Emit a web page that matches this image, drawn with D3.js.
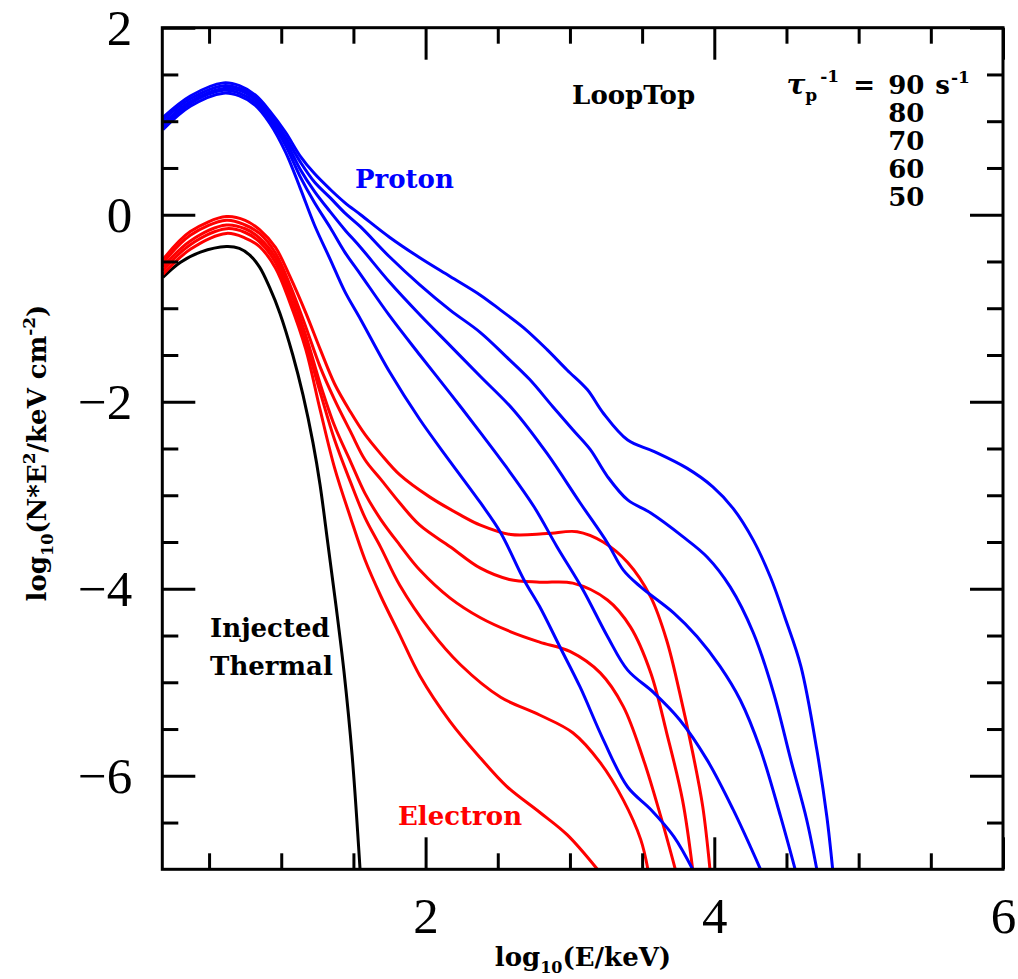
<!DOCTYPE html>
<html>
<head>
<meta charset="utf-8">
<script src="https://cdn.jsdelivr.net/npm/d3@7"></script>
<style>
  body { margin: 0; background: #fff; }
  .tick text { font-family: "Liberation Serif", serif; font-size: 51px; fill: #000; }
  .lbl { font-family: "DejaVu Serif", serif; font-weight: bold; font-size: 26px; }
</style>
</head>
<body>
<script>
'use strict';

// axes: log10(E/keV) vs log10(N*E^2/keV cm^-2)
const xDomain = [0.176, 6];
const yDomain = [-7, 2];
const xMajor = [2, 4, 6];
const yMajor = [2, 0, -2, -4, -6];
const rates = [90, 80, 70, 60, 50];   // tau_p^-1 in s^-1

// [log10 E, log10 N*E^2]
const thermal = [[0.18,-0.67],[0.30,-0.51],[0.44,-0.40],[0.62,-0.34],[0.71,-0.36],[0.78,-0.43],
  [0.85,-0.56],[0.92,-0.78],[0.99,-1.05],[1.08,-1.50],[1.151,-1.93],[1.22,-2.44],[1.269,-2.89],
  [1.324,-3.53],[1.380,-4.19],[1.435,-4.89],[1.491,-5.78],[1.546,-7.00]];

const proton90 = [[0.18,1.04],[0.37,1.27],[0.60,1.41],[0.71,1.38],[0.82,1.28],[0.92,1.11],[1.03,0.88],
  [1.13,0.63],[1.23,0.44],[1.34,0.27],[1.44,0.13],[1.55,0.00],[1.75,-0.24],[1.96,-0.46],[2.17,-0.66],
  [2.38,-0.86],[2.52,-1.02],[2.68,-1.21],[2.84,-1.44],[2.98,-1.66],[3.12,-1.87],[3.23,-2.12],[3.40,-2.41],
  [3.58,-2.53],[3.81,-2.71],[3.99,-2.91],[4.13,-3.14],[4.27,-3.48],[4.39,-3.88],[4.49,-4.31],[4.60,-4.83],
  [4.71,-5.72],[4.78,-6.44],[4.82,-7.00]];
const proton80 = [[0.18,1.01],[0.37,1.24],[0.60,1.38],[0.71,1.35],[0.82,1.26],[0.92,1.08],[1.03,0.83],
  [1.13,0.57],[1.23,0.35],[1.34,0.18],[1.44,0.02],[1.55,-0.13],[1.75,-0.45],[1.96,-0.75],[2.17,-1.02],
  [2.38,-1.26],[2.56,-1.52],[2.72,-1.76],[2.88,-2.05],[3.02,-2.30],[3.14,-2.51],[3.26,-2.80],[3.40,-3.05],
  [3.56,-3.19],[3.78,-3.44],[3.95,-3.66],[4.11,-3.98],[4.27,-4.47],[4.41,-5.11],[4.53,-5.83],[4.64,-6.47],
  [4.71,-7.00]];
const proton70 = [[0.18,0.97],[0.37,1.21],[0.60,1.35],[0.71,1.33],[0.82,1.23],[0.92,1.05],[1.03,0.79],
  [1.13,0.49],[1.23,0.25],[1.34,0.03],[1.44,-0.16],[1.55,-0.35],[1.75,-0.72],[1.96,-1.07],[2.17,-1.40],
  [2.38,-1.73],[2.61,-2.09],[2.84,-2.55],[3.07,-3.08],[3.26,-3.51],[3.37,-3.80],[3.49,-3.98],[3.72,-4.26],
  [3.88,-4.51],[4.04,-4.83],[4.18,-5.19],[4.32,-5.72],[4.46,-6.44],[4.56,-7.00]];
const proton60 = [[0.18,0.94],[0.37,1.19],[0.60,1.33],[0.71,1.30],[0.82,1.20],[0.92,1.02],[1.03,0.74],
  [1.13,0.41],[1.23,0.13],[1.34,-0.14],[1.44,-0.40],[1.55,-0.64],[1.75,-1.08],[1.96,-1.50],[2.17,-1.91],
  [2.38,-2.33],[2.56,-2.70],[2.75,-3.12],[2.91,-3.55],[3.09,-4.01],[3.26,-4.51],[3.40,-4.87],[3.58,-5.11],
  [3.76,-5.40],[3.95,-5.83],[4.13,-6.36],[4.32,-7.00]];
const proton50 = [[0.18,0.91],[0.37,1.16],[0.60,1.30],[0.71,1.27],[0.82,1.17],[0.92,0.98],[1.03,0.67],
  [1.13,0.29],[1.23,-0.11],[1.34,-0.48],[1.44,-0.82],[1.55,-1.12],[1.75,-1.68],[1.96,-2.19],[2.17,-2.64],
  [2.38,-3.08],[2.52,-3.40],[2.68,-3.90],[2.79,-4.19],[2.93,-4.62],[3.07,-5.05],[3.23,-5.61],[3.40,-6.12],
  [3.56,-6.36],[3.72,-6.65],[3.85,-7.00]];

const electron90 = [[0.18,-0.48],[0.37,-0.18],[0.62,-0.02],[0.75,-0.06],[0.85,-0.16],[0.96,-0.35],
  [1.06,-0.66],[1.17,-1.05],[1.27,-1.44],[1.37,-1.81],[1.48,-2.11],[1.58,-2.35],[1.69,-2.56],[1.82,-2.78],
  [2.03,-3.02],[2.24,-3.21],[2.38,-3.32],[2.59,-3.42],[2.84,-3.41],[3.05,-3.39],[3.23,-3.50],[3.40,-3.72],
  [3.56,-4.09],[3.67,-4.55],[3.76,-5.11],[3.85,-5.75],[3.92,-6.33],[3.97,-7.00]];
const electron80 = [[0.18,-0.52],[0.37,-0.22],[0.62,-0.06],[0.75,-0.11],[0.85,-0.20],[0.96,-0.41],
  [1.06,-0.75],[1.17,-1.20],[1.27,-1.63],[1.37,-1.98],[1.48,-2.32],[1.58,-2.62],[1.69,-2.83],[1.82,-3.08],
  [1.96,-3.32],[2.17,-3.55],[2.38,-3.78],[2.58,-3.90],[2.79,-3.93],[3.02,-3.94],[3.26,-4.12],[3.42,-4.41],
  [3.56,-4.90],[3.67,-5.54],[3.78,-6.26],[3.85,-7.00]];
const electron70 = [[0.18,-0.56],[0.37,-0.28],[0.62,-0.11],[0.75,-0.15],[0.85,-0.25],[0.96,-0.46],
  [1.06,-0.81],[1.17,-1.29],[1.27,-1.81],[1.37,-2.26],[1.48,-2.64],[1.58,-2.98],[1.69,-3.26],[1.82,-3.53],
  [1.96,-3.80],[2.17,-4.10],[2.38,-4.31],[2.59,-4.46],[2.79,-4.57],[3.00,-4.67],[3.21,-4.90],[3.37,-5.26],
  [3.51,-5.83],[3.63,-6.44],[3.73,-7.00]];
const electron60 = [[0.18,-0.60],[0.37,-0.32],[0.62,-0.15],[0.75,-0.19],[0.85,-0.29],[0.96,-0.51],
  [1.06,-0.88],[1.17,-1.37],[1.27,-1.90],[1.37,-2.41],[1.48,-2.86],[1.58,-3.24],[1.69,-3.56],[1.82,-3.96],
  [2.03,-4.44],[2.24,-4.81],[2.52,-5.16],[2.79,-5.35],[3.02,-5.54],[3.21,-5.86],[3.37,-6.26],[3.49,-6.68],
  [3.54,-7.00]];
const electron50 = [[0.18,-0.64],[0.37,-0.37],[0.62,-0.20],[0.75,-0.25],[0.85,-0.34],[0.96,-0.57],
  [1.06,-0.94],[1.17,-1.44],[1.27,-2.09],[1.37,-2.71],[1.48,-3.24],[1.58,-3.69],[1.69,-4.08],[1.82,-4.49],
  [1.96,-4.93],[2.17,-5.42],[2.38,-5.81],[2.56,-6.11],[2.79,-6.39],[2.98,-6.63],[3.19,-7.00]];

const protons = [proton90, proton80, proton70, proton60, proton50];
const electrons = [electron90, electron80, electron70, electron60, electron50];

function makeChart() {
  const margin = { top: 27.7, right: 15, bottom: 109.7, left: 162.3 };
  const W = 1018, H = 979;
  const width = W - margin.left - margin.right;
  const height = H - margin.top - margin.bottom;

  const x = d3.scaleLinear().domain(xDomain).range([0, width]);
  const y = d3.scaleLinear().domain(yDomain).range([height, 0]);

  const svg = d3.select('body').append('svg')
    .attr('width', W).attr('height', H);
  const plot = svg.append('g')
    .attr('transform', `translate(${margin.left},${margin.top})`);

  plot.append('clipPath').attr('id', 'clip')
    .append('rect').attr('width', width).attr('height', height);

  const line = d3.line()
    .x((d) => x(d[0]))
    .y((d) => y(d[1]))
    .curve(d3.curveCatmullRom.alpha(0.5));

  const curves = plot.append('g').attr('clip-path', 'url(#clip)')
    .attr('fill', 'none').attr('stroke-width', 3)
    .attr('stroke-linejoin', 'round');

  curves.append('path').attr('d', line(thermal)).attr('stroke', '#000');
  curves.selectAll('.el').data(electrons).enter().append('path')
    .attr('class', 'el').attr('d', line).attr('stroke', '#ff0000');
  curves.selectAll('.pr').data(protons).enter().append('path')
    .attr('class', 'pr').attr('d', line).attr('stroke', '#0000ff');

  // ticks point inward on all four sides
  const xMinor = d3.range(0.5, 6.01, 0.5).filter((v) => !xMajor.includes(v));
  const yMinor = d3.range(-6.5, 2, 0.5).filter((v) => !yMajor.includes(v));
  const fmt = d3.format('d');
  const none = () => '';

  function addAxis(axisFn, scale, values, size, transform, format, pad) {
    const a = axisFn(scale).tickValues(values)
      .tickSizeInner(-size).tickSizeOuter(0)
      .tickPadding(pad || 0).tickFormat(format || none);
    const g = plot.append('g').attr('transform', transform).call(a);
    g.select('.domain').remove();
    g.selectAll('line').attr('stroke', '#000').attr('stroke-width', 3);
    g.attr('font-family', null).attr('font-size', null);
    return g;
  }

  addAxis(d3.axisBottom, x, xMajor, 32, `translate(0,${height})`, fmt, 27);
  addAxis(d3.axisBottom, x, xMinor, 16, `translate(0,${height})`);
  addAxis(d3.axisTop, x, xMajor, 32, 'translate(0,0)');
  addAxis(d3.axisTop, x, xMinor, 16, 'translate(0,0)');
  addAxis(d3.axisLeft, y, yMajor, 33, 'translate(0,0)', fmt, 30);
  addAxis(d3.axisLeft, y, yMinor, 16, 'translate(0,0)');
  addAxis(d3.axisRight, y, yMajor, 33, `translate(${width},0)`);
  addAxis(d3.axisRight, y, yMinor, 16, `translate(${width},0)`);

  plot.append('rect')
    .attr('width', width).attr('height', height)
    .attr('fill', 'none').attr('stroke', '#000').attr('stroke-width', 3);

  // annotations, anchored in data units
  const notes = [
    { text: 'LoopTop', at: [3.015, 1.187], color: '#000' },
    { text: 'Proton', at: [1.511, 0.289], color: '#0000ff' },
    { text: 'Injected', at: [0.507, -4.513], color: '#000' },
    { text: 'Thermal', at: [0.507, -4.92], color: '#000' },
    { text: 'Electron', at: [1.809, -6.524], color: '#ff0000' },
  ];
  plot.selectAll('.note').data(notes).enter().append('text')
    .attr('class', 'lbl note')
    .attr('x', (d) => x(d.at[0])).attr('y', (d) => y(d.at[1]))
    .attr('fill', (d) => d.color)
    .text((d) => d.text);

  // tau_p^-1 legend
  const legY = 1.294, legStep = 0.3;
  const tau = plot.append('text').attr('class', 'lbl')
    .attr('x', x(4.5)).attr('y', y(legY));
  tau.append('tspan').attr('font-style', 'italic').attr('font-size', 28).text('τ');
  tau.append('tspan').attr('font-size', 17).attr('dy', 7).text('p');
  tau.append('tspan').attr('font-size', 17).attr('dy', -19).attr('dx', 3).text('-1');
  plot.append('text').attr('class', 'lbl')
    .attr('x', x(4.963)).attr('y', y(legY)).text('=');
  plot.selectAll('.rate').data(rates).enter().append('text')
    .attr('class', 'lbl rate')
    .attr('x', x(5.205)).attr('y', (d, i) => y(legY - i * legStep))
    .text((d) => d);
  const unit = plot.append('text').attr('class', 'lbl')
    .attr('x', x(5.531)).attr('y', y(legY));
  unit.append('tspan').text('s');
  unit.append('tspan').attr('font-size', 17).attr('dy', -11).attr('dx', 1).text('-1');

  // axis titles
  const xt = svg.append('text').attr('class', 'lbl')
    .attr('text-anchor', 'middle')
    .attr('x', 583).attr('y', 966);
  xt.append('tspan').text('log');
  xt.append('tspan').attr('font-size', 16).attr('dy', 7).text('10');
  xt.append('tspan').attr('dy', -7).text('(E/keV)');

  const yt = svg.append('text').attr('class', 'lbl')
    .attr('text-anchor', 'middle')
    .attr('transform', 'translate(46,453) rotate(-90)');
  yt.append('tspan').text('log');
  yt.append('tspan').attr('font-size', 16).attr('dy', 7).text('10');
  yt.append('tspan').attr('dy', -7).text('(N*E');
  yt.append('tspan').attr('font-size', 17).attr('dy', -11).text('2');
  yt.append('tspan').attr('dy', 11).text('/keV cm');
  yt.append('tspan').attr('font-size', 17).attr('dy', -11).text('-2');
  yt.append('tspan').attr('dy', 11).text(')');
}

makeChart();
</script>
</body>
</html>
